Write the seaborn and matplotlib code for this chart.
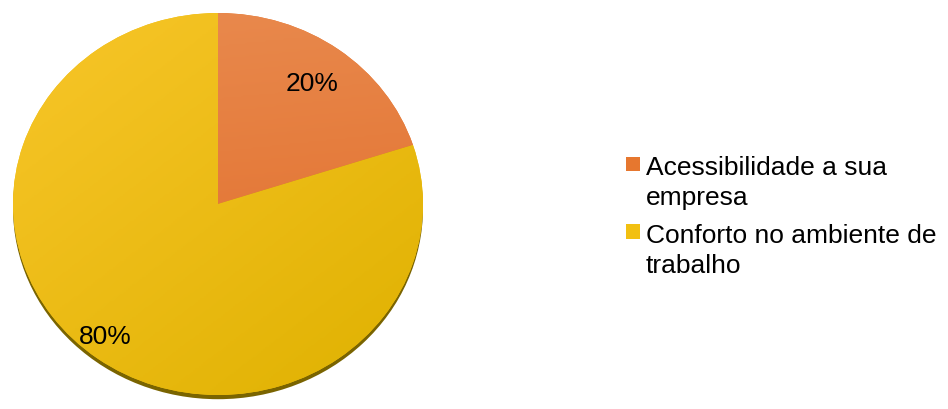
import numpy as np
import matplotlib
matplotlib.use("Agg")
import matplotlib.pyplot as plt
from matplotlib.colors import LinearSegmentedColormap
from matplotlib.patches import Ellipse, Rectangle
from matplotlib.legend_handler import HandlerPatch
import seaborn as sns

# data
labels = ["Acessibilidade a sua\nempresa", "Conforto no ambiente de\ntrabalho"]
shares = [20, 80]
colors = ["#E6772F", "#F2C011"]
# light -> dark ends used for the soft gradient inside each slice
grad_colors = [("#E98A4E", "#E06A26"), ("#F8C62A", "#DFB100")]

sns.set_theme(style="white")
plt.rcParams["font.family"] = ["Liberation Sans", "DejaVu Sans"]
plt.rcParams["text.color"] = "black"

fig = plt.figure(figsize=(9.48, 4.10), dpi=100)
ax = fig.add_axes([13 / 948, 14 / 410, 410 / 948, 382 / 410])

wedges, texts, autotexts = ax.pie(
    shares,
    colors=colors,
    startangle=90,
    counterclock=False,
    autopct=lambda p: f"{p:.0f}%",
    pctdistance=0.78,
    textprops={"fontsize": 19, "color": "black"},
    wedgeprops={"linewidth": 0},
)

# push the big slice label a little further out, like the original
w = wedges[1]
mid = np.deg2rad((w.theta1 + w.theta2) / 2 - 2.5)
autotexts[1].set_position((0.88 * np.cos(mid), 0.88 * np.sin(mid)))
for t in autotexts:
    t.set_zorder(10)

# shadow under the pie
shadow = Ellipse((0.0, -0.022), 2.0, 2.0, facecolor="#7A6400", edgecolor="none",
                 zorder=0, clip_on=False)
ax.add_patch(shadow)

# gentle gradient fill clipped to each wedge
n = 200
xs = np.linspace(-1, 1, n)
X, Y = np.meshgrid(xs, xs[::-1])
for wedge, (c0, c1), k in zip(wedges, grad_colors, [0.1, 0.45]):
    t = (1 - Y) / 2 * (1 - k) + (X + 1) / 2 * k
    cmap = LinearSegmentedColormap.from_list("g", [c0, c1])
    im = ax.imshow(t, cmap=cmap, extent=(-1, 1, -1, 1), aspect="auto",
                   zorder=wedge.get_zorder() + 0.1, vmin=0, vmax=1)
    im.set_clip_path(wedge)

ax.set_aspect("auto")
ax.set_xlim(-1, 1)
ax.set_ylim(-1, 1)
ax.axis("off")


def top_square(legend, orig_handle, xdescent, ydescent, width, height, fontsize):
    # small square next to the first line of a two-line label
    sq = 0.54 * fontsize
    return Rectangle((-xdescent + width - sq, -ydescent + height - sq * 0.75), sq, sq)


leg = fig.legend(
    wedges, labels,
    loc="center left",
    bbox_to_anchor=(602 / 948, 1 - 217 / 410),
    frameon=False,
    fontsize=19,
    handlelength=0.54,
    handleheight=2.3,
    handletextpad=0.23,
    labelspacing=0.5,
    handler_map={w: HandlerPatch(patch_func=top_square) for w in wedges},
)
for t in leg.get_texts():
    t.set_linespacing(1.32)

fig.savefig("out.png", dpi=100)
